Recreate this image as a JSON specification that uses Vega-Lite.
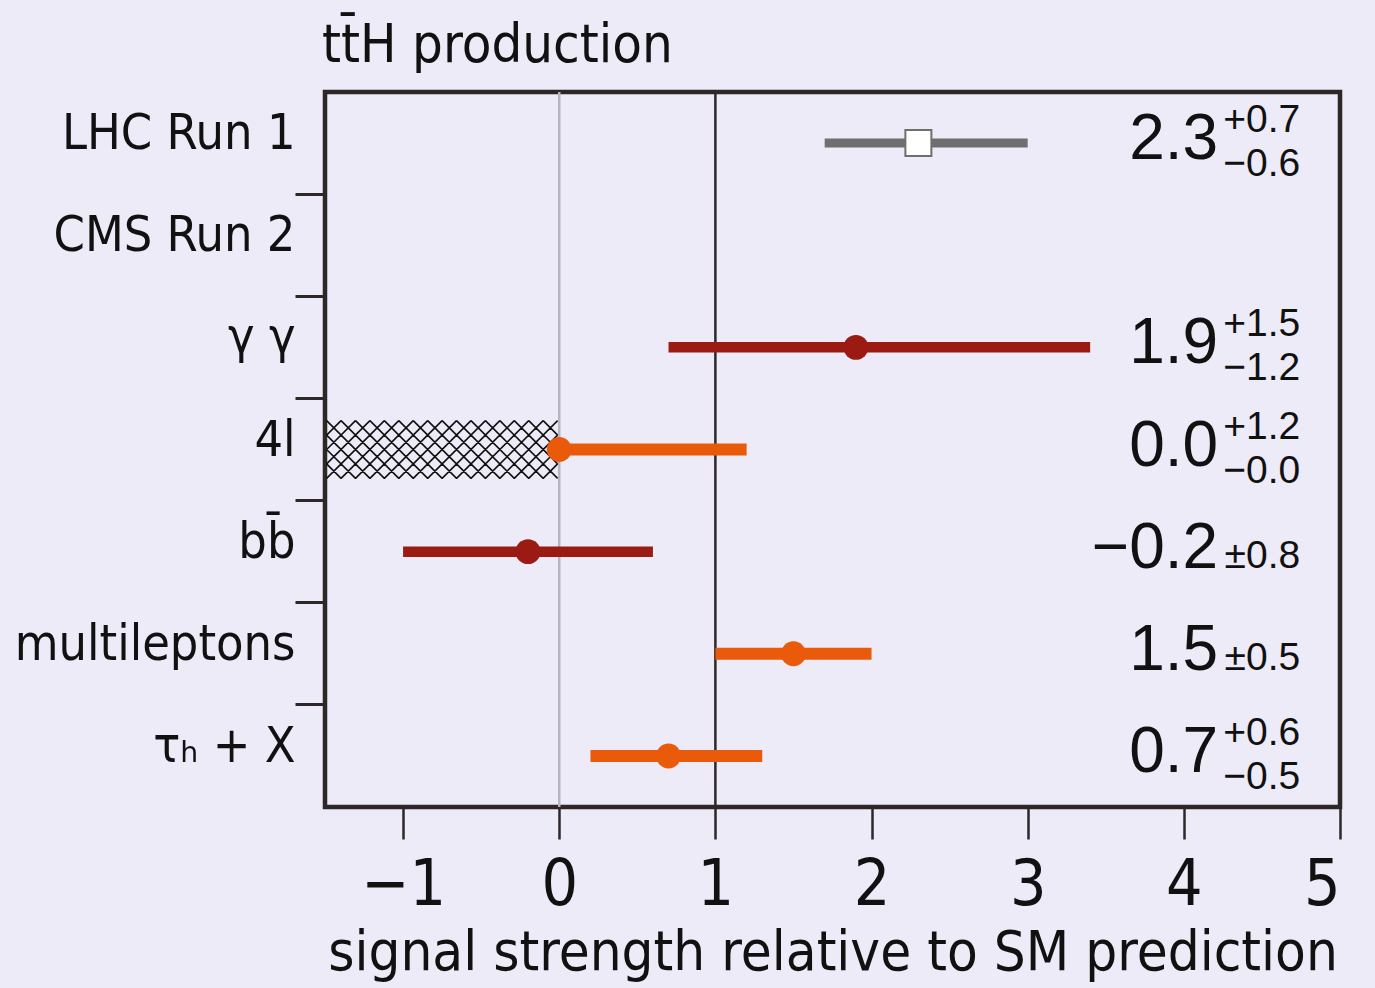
{
  "$schema": "https://vega.github.io/schema/vega-lite/v6.json",
  "width": 1015,
  "height": 715,
  "autosize": {"type": "none"},
  "padding": {"left": 325, "top": 92, "right": 35, "bottom": 181},
  "background": "#ECEBF7",
  "config": {
    "view": {"stroke": "#2d2727", "strokeWidth": 4.5, "fill": "#ECEBF7"},
    "font": "Liberation Sans Narrow, DejaVu Sans Condensed, sans-serif"
  },
  "title": {
    "text": "tt̄H production",
    "anchor": "start",
    "frame": "group",
    "fontSize": 54,
    "fontWeight": "normal",
    "color": "#111111",
    "font": "Liberation Sans Narrow, DejaVu Sans Condensed, sans-serif",
    "baseline": "alphabetic",
    "offset": -25,
    "dx": -3
  },
  "datasets": {
    "results": [
      {"cat": "LHC Run 1", "grp": "LHC", "mu": 2.3, "lo": 1.7, "hi": 3.0, "val": "2.3", "up": "+0.7", "dn": "−0.6", "pm": ""},
      {"cat": "γ γ", "grp": "dark", "mu": 1.9, "lo": 0.7, "hi": 3.4, "val": "1.9", "up": "+1.5", "dn": "−1.2", "pm": ""},
      {"cat": "4l", "grp": "orange", "mu": 0.0, "lo": 0.0, "hi": 1.2, "val": "0.0", "up": "+1.2", "dn": "−0.0", "pm": ""},
      {"cat": "bb̄", "grp": "dark", "mu": -0.2, "lo": -1.0, "hi": 0.6, "val": "−0.2", "up": "", "dn": "", "pm": "±0.8"},
      {"cat": "multileptons", "grp": "orange", "mu": 1.5, "lo": 1.0, "hi": 2.0, "val": "1.5", "up": "", "dn": "", "pm": "±0.5"},
      {"cat": "τₕ + X", "grp": "orange", "mu": 0.7, "lo": 0.2, "hi": 1.3, "val": "0.7", "up": "+0.6", "dn": "−0.5", "pm": ""}
    ],
    "refs": [
      {"mu": 0, "kind": "zero"},
      {"mu": 1, "kind": "SM"}
    ],
    "excluded": [
      {"cat": "4l", "lo": -1.5, "hi": 0}
    ]
  },
  "layer": [
    {
      "data": {"name": "refs"},
      "transform": [{"filter": "datum.kind === 'zero'"}],
      "mark": {"type": "rule", "strokeWidth": 2.5, "color": "#b7b5bd"},
      "encoding": {
        "x": {"field": "mu", "type": "quantitative", "scale": {"domain": [-1.5, 5], "nice": false, "zero": false},
          "axis": {
            "values": [-1, 0, 1, 2, 3, 4, 5],
            "format": "d",
            "domain": false,
            "grid": false,
            "tickSize": 32,
            "tickWidth": 2.5,
            "tickColor": "#2d2727",
            "labelFontSize": 64,
            "labelColor": "#111111",
            "labelPadding": 14,
            "title": "signal strength relative to SM prediction",
            "titleFontSize": 56,
            "titleFontWeight": "normal",
            "titleColor": "#111111",
            "titlePadding": 8
          }
        }
      }
    },
    {
      "data": {"name": "refs"},
      "transform": [{"filter": "datum.kind === 'SM'"}],
      "mark": {"type": "rule", "strokeWidth": 2.5, "color": "#2d2727"},
      "encoding": {
        "x": {"field": "mu", "type": "quantitative"}
      }
    },
    {
      "data": {"name": "excluded"},
      "mark": {
        "type": "point",
        "filled": false,
        "opacity": 1,
        "stroke": "#111111",
        "strokeWidth": 1.6,
        "size": 53361,
        "shape": "M-1 -.25L-.5 .25M-.875 -.25L-.375 .25M-.75 -.25L-.25 .25M-.625 -.25L-.125 .25M-.5 -.25L0 .25M-.375 -.25L.125 .25M-.25 -.25L.25 .25M-.125 -.25L.375 .25M0 -.25L.5 .25M.125 -.25L.625 .25M.25 -.25L.75 .25M.375 -.25L.875 .25M.5 -.25L1 .25M-1 .125L-.875 .25M-1 0L-.75 .25M-1 -.125L-.625 .25M.625 -.25L1 .125M.75 -.25L1 0M.875 -.25L1 -.125M-.5 -.25L-1 .25M-.375 -.25L-.875 .25M-.25 -.25L-.75 .25M-.125 -.25L-.625 .25M0 -.25L-.5 .25M.125 -.25L-.375 .25M.25 -.25L-.25 .25M.375 -.25L-.125 .25M.5 -.25L0 .25M.625 -.25L.125 .25M.75 -.25L.25 .25M.875 -.25L.375 .25M1 -.25L.5 .25M-.875 -.25L-1 -.125M-.75 -.25L-1 0M-.625 -.25L-1 .125M1 -.125L.625 .25M1 0L.75 .25M1 .125L.875 .25"
      },
      "encoding": {
        "x": {"datum": -0.75, "type": "quantitative"},
        "y": {"field": "cat", "type": "nominal", "axis": null}
      }
    },
    {
      "data": {"name": "results"},
      "mark": {"type": "rule", "strokeCap": "butt"},
      "encoding": {
        "x": {"field": "lo", "type": "quantitative"},
        "x2": {"field": "hi"},
        "y": {
          "field": "cat", "type": "nominal",
          "scale": {"domain": ["LHC Run 1", "CMS Run 2", "γ γ", "4l", "bb̄", "multileptons", "τₕ + X"], "paddingInner": 0, "paddingOuter": 0},
          "axis": {
            "orient": "left",
            "title": null,
            "domain": false,
            "ticks": false,
            "tickSize": 0,
            "labelFontSize": 50,
            "labelPadding": 30,
            "labelOffset": -9,
            "labelColor": "#111111",
            "labelLimit": 0,
            "labelFont": "Liberation Sans Narrow, DejaVu Sans Condensed, sans-serif"
          }
        },
        "color": {"field": "grp", "type": "nominal", "scale": {"domain": ["LHC", "dark", "orange"], "range": ["#6f6f6f", "#9b1a12", "#ea5a0b"]}, "legend": null},
        "size": {"field": "grp", "type": "nominal", "scale": {"domain": ["LHC", "dark", "orange"], "range": [9, 12, 12]}, "legend": null}
      }
    },
    {
      "data": {"name": "results"},
      "transform": [{"filter": "datum.grp !== 'LHC'"}],
      "mark": {"type": "circle", "size": 620, "opacity": 1},
      "encoding": {
        "x": {"field": "mu", "type": "quantitative"},
        "y": {
          "field": "cat", "type": "nominal",
          "axis": {
            "orient": "left",
            "title": null,
            "domain": false,
            "labels": false,
            "ticks": true,
            "grid": false,
            "tickSize": 30,
            "tickWidth": 3,
            "tickColor": "#2d2727",
            "bandPosition": 0,
            "values": ["CMS Run 2", "γ γ", "4l", "bb̄", "multileptons", "τₕ + X"]
          }
        },
        "color": {"field": "grp", "type": "nominal", "legend": null}
      }
    },
    {
      "data": {"name": "results"},
      "transform": [{"filter": "datum.grp === 'LHC'"}],
      "mark": {"type": "square", "size": 676, "opacity": 1, "fill": "#ffffff", "stroke": "#6f6f6f", "strokeWidth": 2},
      "encoding": {
        "x": {"field": "mu", "type": "quantitative"},
        "y": {"field": "cat", "type": "nominal", "axis": null}
      }
    },
    {
      "data": {"name": "results"},
      "mark": {"type": "text", "align": "right", "baseline": "alphabetic", "dy": 16, "fontSize": 64, "font": "Liberation Sans, Arial, sans-serif", "color": "#111111"},
      "encoding": {
        "x": {"datum": 4.22, "type": "quantitative"},
        "y": {"field": "cat", "type": "nominal", "axis": null},
        "text": {"field": "val"}
      }
    },
    {
      "data": {"name": "results"},
      "mark": {"type": "text", "align": "right", "baseline": "alphabetic", "dy": -11, "fontSize": 39, "font": "Liberation Sans, Arial, sans-serif", "color": "#111111"},
      "encoding": {
        "x": {"datum": 4.745, "type": "quantitative"},
        "y": {"field": "cat", "type": "nominal", "axis": null},
        "text": {"field": "up"}
      }
    },
    {
      "data": {"name": "results"},
      "mark": {"type": "text", "align": "right", "baseline": "alphabetic", "dy": 33, "fontSize": 39, "font": "Liberation Sans, Arial, sans-serif", "color": "#111111"},
      "encoding": {
        "x": {"datum": 4.745, "type": "quantitative"},
        "y": {"field": "cat", "type": "nominal", "axis": null},
        "text": {"field": "dn"}
      }
    },
    {
      "data": {"name": "results"},
      "mark": {"type": "text", "align": "right", "baseline": "alphabetic", "dy": 16, "fontSize": 39, "font": "Liberation Sans, Arial, sans-serif", "color": "#111111"},
      "encoding": {
        "x": {"datum": 4.745, "type": "quantitative"},
        "y": {"field": "cat", "type": "nominal", "axis": null},
        "text": {"field": "pm"}
      }
    }
  ],
  "resolve": {"axis": {"y": "independent"}}
}
